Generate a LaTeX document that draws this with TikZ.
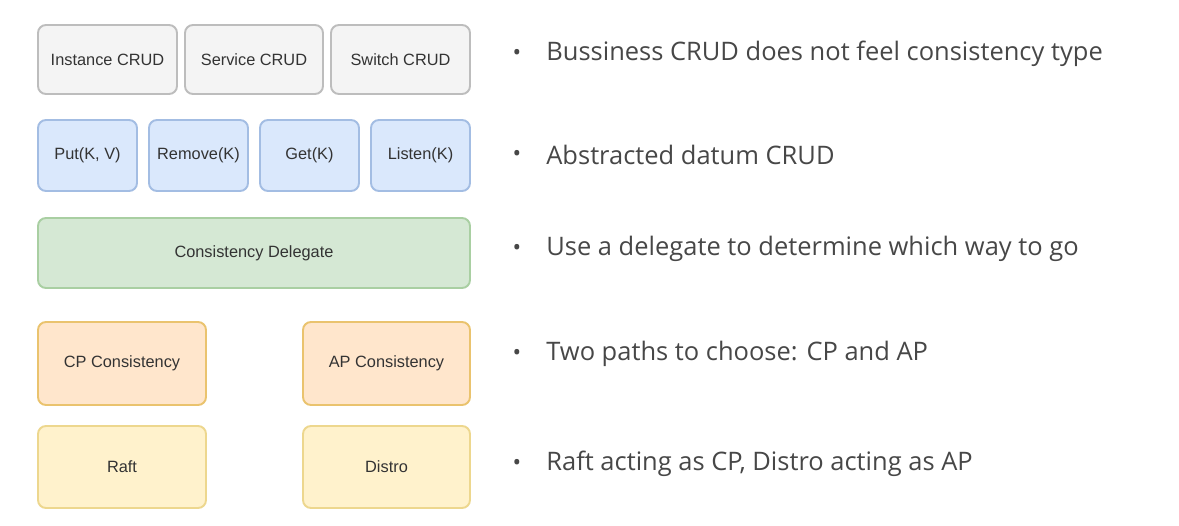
\documentclass[tikz,border=0pt]{standalone}
\usepackage{fontspec}
\setmainfont{Liberation Sans}
\newfontfamily\notefont{Open Sans}
\definecolor{grayfill}{HTML}{F4F4F4}\definecolor{graydraw}{HTML}{BDBDBD}
\definecolor{bluefill}{HTML}{DAE8FC}\definecolor{bluedraw}{HTML}{A3BDE3}
\definecolor{greenfill}{HTML}{D5E8D4}\definecolor{greendraw}{HTML}{A9CFA2}
\definecolor{orangefill}{HTML}{FFE6CC}\definecolor{orangedraw}{HTML}{EAC36E}
\definecolor{yellowfill}{HTML}{FFF2CC}\definecolor{yellowdraw}{HTML}{EDD78E}
\definecolor{txt}{HTML}{333333}
\begin{document}
\begin{tikzpicture}[x=0.02cm,y=-0.02cm,
  box/.style={rounded corners=8*0.02cm, line width=1.1pt, font=\fontsize{9.3}{11}\selectfont, text=txt},
  gray box/.style={box, draw=graydraw, fill=grayfill},
  blue box/.style={box, draw=bluedraw, fill=bluefill},
  green box/.style={box, draw=greendraw, fill=greenfill},
  orange box/.style={box, draw=orangedraw, fill=orangefill},
  yellow box/.style={box, draw=yellowdraw, fill=yellowfill},
  note/.style={anchor=west, inner sep=0pt, font=\notefont\fontsize{14.5}{17}\selectfont, text=txt!90},
  dot/.style={inner sep=0pt, font=\notefont\fontsize{13}{16}\selectfont, text=txt!90}]
\useasboundingbox (0,0) rectangle (1179,526);
\fill[white] (0,0) rectangle (1179,526);
% row 1
\draw[gray box] (38,25) rectangle node (inst) {Instance CRUD} (177,94);
\draw[gray box] (185,25) rectangle node (serv) {Service CRUD} (323,94);
\draw[gray box] (331,25) rectangle node (swit) {Switch CRUD} (470,94);
% row 2
\draw[blue box] (38,120) rectangle node (put) {Put(K, V)} (137,191);
\draw[blue box] (149,120) rectangle node (rem) {Remove(K)} (248,191);
\draw[blue box] (260,120) rectangle node (get) {Get(K)} (359,191);
\draw[blue box] (371,120) rectangle node (lis) {Listen(K)} (470,191);
% row 3
\draw[green box] (38,218) rectangle node (del) {Consistency Delegate} (470,288);
% row 4
\draw[orange box] (38,322) rectangle node (cp) {CP Consistency} (206,405);
\draw[orange box] (303,322) rectangle node (ap) {AP Consistency} (470,405);
% row 5
\draw[yellow box] (38,426) rectangle node (raft) {Raft} (206,508);
\draw[yellow box] (303,426) rectangle node (dis) {Distro} (470,508);
% notes
\node[dot] (b1) at (517,55) {•};
\node[note] (n1) at (546,54) {Bussiness CRUD does not feel consistency type};
\node[dot] (b2) at (517,156) {•};
\node[note] (n2) at (546,155) {Abstracted datum CRUD};
\node[dot] (b3) at (517,250) {•};
\node[note] (n3) at (546,249) {Use a delegate to determine which way to go};
\node[dot] (b4) at (517,355) {•};
\node[note] (n4) at (546,354) {Two paths to choose: CP and AP};
\node[dot] (b5) at (517,465) {•};
\node[note] (n5) at (546,464) {Raft acting as CP, Distro acting as AP};
\end{tikzpicture}
\end{document}
